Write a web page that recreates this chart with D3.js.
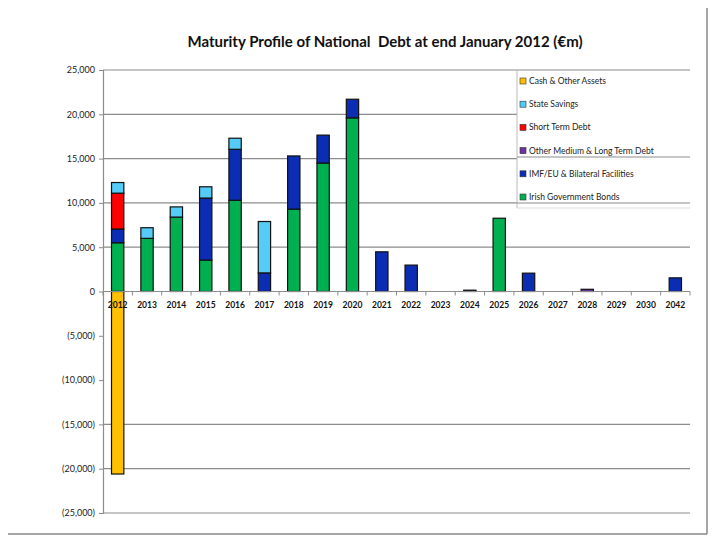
<!DOCTYPE html>
<html>
<head>
<meta charset="utf-8">
<script src="https://cdn.jsdelivr.net/npm/d3@7"></script>
<style>
  body { margin: 0; background: #fff; }
  text { font-family: Lato, "Open Sans", sans-serif; }
</style>
</head>
<body>
<svg id="chart" width="720" height="540"></svg>
<script>
// values in €m
var years = ["2012","2013","2014","2015","2016","2017","2018","2019","2020","2021",
             "2022","2023","2024","2025","2026","2027","2028","2029","2030","2042"]
var bonds        = [5500, 6000, 8400, 3550, 10300, 0, 9300, 14500, 19600, 0, 0, 0, 0, 8270, 0, 0, 0, 0, 0, 0]
var imf          = [1550, 0, 0, 7000, 5750, 2100, 6000, 3150, 2100, 4480, 2980, 0, 0, 0, 2070, 0, 0, 0, 0, 1540]
var otherMedLong = [0, 0, 0, 0, 0, 0, 0, 0, 0, 0, 0, 0, 150, 0, 0, 0, 250, 0, 0, 0]
var shortTerm    = [4050, 0, 0, 0, 0, 0, 0, 0, 0, 0, 0, 0, 0, 0, 0, 0, 0, 0, 0, 0]
var stateSavings = [1200, 1200, 1150, 1270, 1250, 5800, 0, 0, 0, 0, 0, 0, 0, 0, 0, 0, 0, 0, 0, 0]
var cashAssets   = [-20600, 0, 0, 0, 0, 0, 0, 0, 0, 0, 0, 0, 0, 0, 0, 0, 0, 0, 0, 0]

var yTicks = [25000, 20000, 15000, 10000, 5000, 0, -5000, -10000, -15000, -20000, -25000]
var gridTicks = [25000, 20000, 15000, 10000, 5000, -15000, -20000, -25000]

var series = [
    {key: "bonds",   name: "Irish Government Bonds",          color: "#00b050", values: bonds},
    {key: "imf",     name: "IMF/EU & Bilateral Facilities",   color: "#0a2db4", values: imf},
    {key: "other",   name: "Other Medium & Long Term Debt",   color: "#7030a0", values: otherMedLong},
    {key: "short",   name: "Short Term Debt",                 color: "#ff0000", values: shortTerm},
    {key: "savings", name: "State Savings",                   color: "#55ccf7", values: stateSavings},
    {key: "cash",    name: "Cash & Other Assets",             color: "#ffc000", values: cashAssets}
]

var table = years.map((y, i) => {
    var row = {year: y}
    series.forEach(s => row[s.key] = s.values[i])
    return row
})

var svg = d3.select("#chart")

var x = d3.scaleBand().domain(years).range([103, 690]).paddingInner(0.58).paddingOuter(0.29)
var y = d3.scaleLinear().domain([-25000, 25000]).range([513, 70])

// outer frame (right + bottom only visible)
svg.append("line").attr("x1", 707).attr("x2", 707).attr("y1", 8).attr("y2", 534)
    .style("stroke", "#888").style("stroke-width", 1.5)
svg.append("line").attr("x1", 8).attr("x2", 707).attr("y1", 534).attr("y2", 534)
    .style("stroke", "#888").style("stroke-width", 1.5)

// title
svg.append("text")
    .attr("x", 385).attr("y", 47)
    .style("text-anchor", "middle")
    .style("font-size", "15px")
    .style("font-weight", "bold")
    .style("fill", "#111")
    .style("white-space", "pre")
    .text("Maturity Profile of National  Debt at end January 2012 (€m)")

// gridlines
svg.append("g").selectAll("line")
    .data(gridTicks)
    .enter()
    .append("line")
    .attr("x1", 103).attr("x2", 690)
    .attr("y1", d => y(d)).attr("y2", d => y(d))
    .style("stroke", "#8c8c8c").style("stroke-width", 1.2)

// y axis
var fmt = d3.format(",")
var yAxis = svg.append("g")
    .attr("transform", "translate(103,0)")
    .call(d3.axisLeft(y).tickValues(yTicks).tickSize(4).tickPadding(4)
        .tickFormat(d => d < 0 ? "(" + fmt(-d) + ")" : fmt(d)))
yAxis.select(".domain").style("stroke", "#8c8c8c").style("stroke-width", 1.2)
yAxis.selectAll("line").style("stroke", "#8c8c8c")
yAxis.selectAll("text").style("font-size", "9px").style("fill", "#222")
    .style("font-family", "Lato, 'Open Sans', sans-serif")

// bars
var stack = d3.stack().keys(series.map(s => s.key)).offset(d3.stackOffsetDiverging)
var stacked = stack(table)

svg.append("g").selectAll("g")
    .data(stacked)
    .enter()
    .append("g")
    .style("fill", (d, i) => series[i].color)
    .selectAll("rect")
    .data(d => d.filter(p => p[1] - p[0] != 0))
    .enter()
    .append("rect")
    .attr("x", d => x(d.data.year))
    .attr("width", x.bandwidth())
    .attr("y", d => y(Math.max(d[0], d[1])))
    .attr("height", d => Math.abs(y(d[0]) - y(d[1])))
    .style("stroke", "#111")
    .style("stroke-width", 1.2)

// x axis at zero
var step = x.step()
var bounds = d3.range(years.length + 1).map(i => 103 + i * step)
svg.append("line").attr("x1", 103).attr("x2", 690).attr("y1", y(0)).attr("y2", y(0))
    .style("stroke", "#8c8c8c").style("stroke-width", 1.2)
svg.append("g").selectAll("line")
    .data(bounds)
    .enter()
    .append("line")
    .attr("x1", d => d).attr("x2", d => d)
    .attr("y1", y(0)).attr("y2", y(0) + 4)
    .style("stroke", "#8c8c8c")
svg.append("g").selectAll("text")
    .data(years)
    .enter()
    .append("text")
    .attr("x", d => x(d) + x.bandwidth() / 2)
    .attr("y", y(0) + 16)
    .style("text-anchor", "middle")
    .style("font-size", "8.5px")
    .style("font-weight", "bold")
    .style("fill", "#111")
    .text(d => d)

// legend
var legend = svg.append("g")
legend.append("rect").attr("x", 517).attr("y", 71).attr("width", 173).attr("height", 137)
    .style("fill", "#fff").style("stroke", "none")
legend.append("line").attr("x1", 517).attr("x2", 517).attr("y1", 70).attr("y2", 208)
    .style("stroke", "#bbb")
legend.append("line").attr("x1", 517).attr("x2", 690).attr("y1", 208).attr("y2", 208)
    .style("stroke", "#ddd")
legend.append("line").attr("x1", 517).attr("x2", 690).attr("y1", 157).attr("y2", 157)
    .style("stroke", "#8c8c8c").style("stroke-width", 1.2)
legend.append("line").attr("x1", 517).attr("x2", 690).attr("y1", 203).attr("y2", 203)
    .style("stroke", "#8c8c8c").style("stroke-width", 1.2)

var legendItems = series.slice().reverse()
var items = legend.selectAll("g.item")
    .data(legendItems)
    .enter()
    .append("g")
    .attr("class", "item")
    .attr("transform", (d, i) => "translate(520," + (81 + i * 23.2) + ")")
items.append("rect")
    .attr("x", 0).attr("y", -3).attr("width", 6).attr("height", 6)
    .style("fill", d => d.color)
    .style("stroke", "#333").style("stroke-width", 0.6)
items.append("text")
    .attr("x", 9).attr("y", 3)
    .style("font-size", "8.5px")
    .style("fill", "#222")
    .text(d => d.name)
</script>
</body>
</html>
